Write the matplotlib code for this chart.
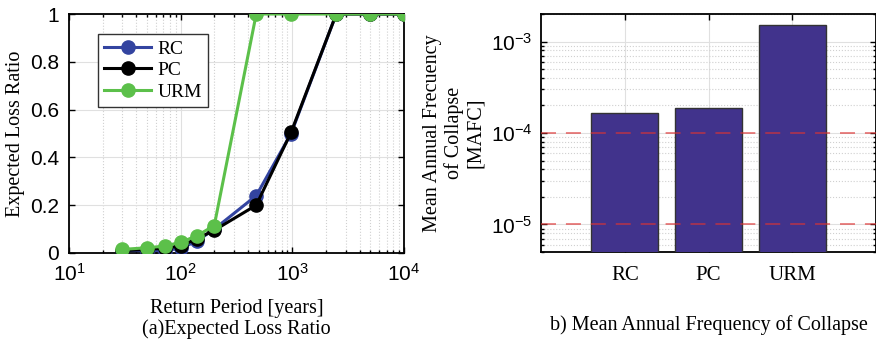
import numpy as np
import matplotlib
matplotlib.use('Agg')
import matplotlib.pyplot as plt
from matplotlib.ticker import LogLocator, FormatStrFormatter, NullFormatter

# data
return_period = [30, 50, 72, 100, 140, 200, 475, 975, 2475, 4975, 9975]
loss_rc = [0.01, 0.01, 0.01, 0.02, 0.05, 0.10, 0.24, 0.50, 1.0, 1.0, 1.0]
loss_pc = [0.01, 0.015, 0.02, 0.03, 0.06, 0.095, 0.20, 0.505, 1.0, 1.0, 1.0]
loss_urm = [0.015, 0.022, 0.029, 0.045, 0.072, 0.115, 1.0, 1.0, 1.0, 1.0, 1.0]

typologies = ['RC', 'PC', 'URM']
mafc = [1.65e-4, 1.87e-4, 1.5e-3]
limits = [1e-4, 1e-5]

plt.rcParams['font.family'] = ['Liberation Sans', 'DejaVu Sans']
plt.rcParams['axes.unicode_minus'] = False
serif = {'family': 'Liberation Serif', 'size': 14.5}

fig = plt.figure(figsize=(8.76, 3.42), dpi=100)
ax1 = fig.add_axes([69 / 876, 1 - 253 / 342, 335 / 876, 239 / 342])
ax2 = fig.add_axes([541 / 876, 1 - 252 / 342, 335 / 876, 238 / 342])

# (a) curvas de perdida
ax1.plot(return_period, loss_rc, '-o', color='#3344a0', lw=2.2, ms=9.5, label='RC', zorder=3)
ax1.plot(return_period, loss_pc, '-o', color='black', lw=2.2, ms=9.5, label='PC', zorder=3)
ax1.plot(return_period, loss_urm, '-o', color='#5cc04a', lw=2.2, ms=9.5, label='URM', zorder=4)
ax1.set_xscale('log')
ax1.set_xlim(10, 1e4)
ax1.set_ylim(0, 1)
ax1.set_yticks([0, 0.2, 0.4, 0.6, 0.8, 1])
ax1.yaxis.set_major_formatter(FormatStrFormatter('%g'))
ax1.xaxis.set_minor_locator(LogLocator(base=10, subs=np.arange(2, 10)))
ax1.xaxis.set_minor_formatter(NullFormatter())
ax1.grid(which='major', color='#e0e0e0', lw=0.8, zorder=0)
ax1.grid(which='minor', axis='x', color='#d0d0d0', lw=0.8, ls=':', zorder=0)
ax1.set_xlabel('Return Period [years]\n(a)Expected Loss Ratio', fontdict=serif, labelpad=10.5, linespacing=1.05)
ax1.set_ylabel('Expected Loss Ratio', fontdict=serif, labelpad=4)
leg = ax1.legend(loc='upper left', bbox_to_anchor=(0.088, 0.915), prop={'family': 'Liberation Serif', 'size': 14},
                 fancybox=False, edgecolor='#333333', framealpha=1, handlelength=2.4,
                 borderpad=0.3, labelspacing=0.2, handletextpad=0.35, borderaxespad=0)
leg.get_frame().set_linewidth(1.0)

# (b) MAFC
x = np.arange(1, len(typologies) + 1)
ax2.bar(x, mafc, width=0.8, color='#41338c', edgecolor='#333333', lw=1.0, zorder=3)
for lim in limits:
    ax2.axhline(lim, color='#dd3333', alpha=0.65, ls=(0, (8.3, 5.5)), lw=1.3, zorder=4)
ax2.set_yscale('log')
ax2.set_ylim(5e-6, 2e-3)
ax2.set_xlim(0, 4)
ax2.set_xticks(x)
ax2.set_xticklabels(typologies, fontdict=serif)
ax2.yaxis.set_major_locator(LogLocator(base=10, numticks=10))
ax2.yaxis.set_minor_locator(LogLocator(base=10, subs=np.arange(2, 10), numticks=10))
ax2.yaxis.set_minor_formatter(NullFormatter())
ax2.grid(which='major', color='#e0e0e0', lw=0.8, zorder=0)
ax2.grid(which='minor', axis='y', color='#d0d0d0', lw=0.8, ls=':', zorder=0)
ax2.set_ylabel('Mean Annual Frecuency\nof Collapse\n[MAFC]', fontdict=serif, labelpad=4, linespacing=1.15)
ax2.set_xlabel('b) Mean Annual Frequency of Collapse', fontdict=serif, labelpad=22)

for ax in (ax1, ax2):
    ax.set_axisbelow(True)
    for s in ax.spines.values():
        s.set_linewidth(1.3)
    ax.tick_params(which='both', direction='in', top=True, right=True, labelsize=15, width=1.0)
    ax.tick_params(which='major', length=4)
    ax.tick_params(which='minor', length=2)
ax1.tick_params(axis='x', which='major', pad=7)
ax1.tick_params(axis='y', which='major', pad=7)
ax2.tick_params(axis='x', which='major', pad=10)
ax2.tick_params(axis='y', which='major', pad=6)

fig.savefig('out.png', dpi=100)
